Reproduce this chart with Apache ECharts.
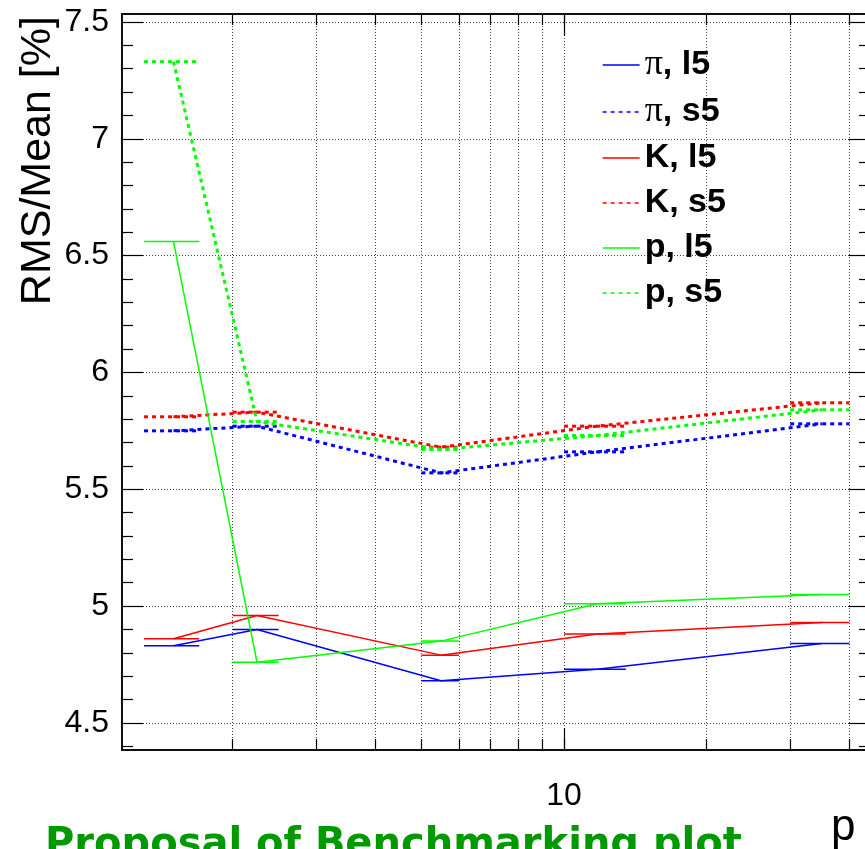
<!DOCTYPE html>
<html>
<head>
<meta charset="utf-8">
<script src="https://cdn.jsdelivr.net/npm/echarts@6.0.0/dist/echarts.min.js"></script>
<style>
  html, body { margin: 0; padding: 0; background: #fff; }
  #chart { width: 865px; height: 849px; }
</style>
</head>
<body>
<div id="chart"></div>
<script>
// bins in p (log axis), centre and x-error edges
var xCenter = [1.5, 2.25, 5.5, 11.75, 35];
var xLow = [1.3, 2.0, 5.0, 10.0, 30.0];
var xHigh = [1.7, 2.5, 6.0, 13.5, 40.0];

// RMS/Mean [%] per species
var piL5 = [4.83, 4.90, 4.68, 4.73, 4.84];
var piS5 = [5.75, 5.77, 5.57, 5.66, 5.78];
var kL5 = [4.86, 4.96, 4.79, 4.88, 4.93];
var kS5 = [5.81, 5.83, 5.68, 5.77, 5.87];
var pL5 = [6.56, 4.76, 4.85, 5.01, 5.05];
var pS5 = [7.33, 5.79, 5.67, 5.73, 5.84];

// ticks
var xMinorTicks = [2, 3, 4, 5, 6, 7, 8, 9, 10, 20, 30, 40];
var xMajorTicks = [10];
var yMajorTicks = [4.5, 5, 5.5, 6, 6.5, 7, 7.5];
var yMinorTicks = [4.4, 4.6, 4.7, 4.8, 4.9, 5.1, 5.2, 5.3, 5.4, 5.6, 5.7, 5.8, 5.9,
  6.1, 6.2, 6.3, 6.4, 6.6, 6.7, 6.8, 6.9, 7.1, 7.2, 7.3, 7.4];

var X_MIN = 1.168, X_MAX = 44.2;
var Y_MIN = 4.384, Y_MAX = 7.534;

var chart = echarts.init(document.getElementById('chart'));

var gridLine = { show: true, lineStyle: { color: '#444', type: [1, 2], width: 1 } };
var frameLine = { show: true, onZero: false, lineStyle: { color: '#000', width: 1.5 } };

function xAx (pos, ticks, len, withLabel) {
  return {
    type: 'log', logBase: 10, gridIndex: 0, position: pos,
    min: X_MIN, max: X_MAX,
    axisLine: frameLine,
    axisTick: { show: true, inside: true, length: len, customValues: ticks,
      lineStyle: { color: '#000', width: 1.2 } },
    axisLabel: withLabel ? {
      show: true, customValues: xMajorTicks, margin: 30,
      fontFamily: 'Liberation Sans', fontSize: 32, color: '#000'
    } : { show: false },
    splitLine: withLabel ? gridLine : { show: false }
  };
}

function yAx (pos, ticks, len, withLabel) {
  return {
    type: 'value', gridIndex: 0, position: pos,
    min: Y_MIN, max: Y_MAX,
    axisLine: frameLine,
    axisTick: { show: true, inside: true, length: len, customValues: ticks,
      lineStyle: { color: '#000', width: 1.2 } },
    axisLabel: withLabel ? {
      show: true, customValues: yMajorTicks, margin: 13,
      fontFamily: 'Liberation Sans', fontSize: 32, color: '#000',
      formatter: function (v) { return String(v); }
    } : { show: false },
    splitLine: withLabel ? gridLine : { show: false }
  };
}

function lineSeries (name, vals, color, dashed) {
  return {
    type: 'line', name: name, xAxisIndex: 0, yAxisIndex: 0,
    data: vals.map(function (v, i) { return [xCenter[i], v]; }),
    symbol: 'none', color: color,
    lineStyle: { color: color, width: dashed ? 3 : 1.5, type: dashed ? [4, 4] : 'solid' },
    emphasis: { disabled: true }, z: 3
  };
}

// horizontal x-error bars
function errSeries (name, vals, color, dashed) {
  return {
    type: 'custom', name: name + ' err', xAxisIndex: 0, yAxisIndex: 0,
    data: vals.map(function (v, i) { return [xLow[i], xHigh[i], v]; }),
    encode: { x: [0, 1], y: 2 },
    silent: true, z: 3,
    renderItem: function (params, api) {
      var a = api.coord([api.value(0), api.value(2)]);
      var b = api.coord([api.value(1), api.value(2)]);
      return {
        type: 'line',
        shape: { x1: a[0], y1: a[1], x2: b[0], y2: b[1] },
        style: { stroke: color, lineWidth: dashed ? 3 : 1.5, lineDash: dashed ? [4, 4] : null }
      };
    }
  };
}

var names = ['π, l5', 'π, s5', 'K, l5', 'K, s5', 'p, l5', 'p, s5'];
var blue = '#0000ff', red = '#ff0000', green = '#00ff00';

chart.setOption({
  animation: false,
  backgroundColor: '#fff',
  grid: { left: 122, top: 14, right: -5, bottom: 99, containLabel: false, outerBoundsMode: 'none' },
  xAxis: [
    xAx('bottom', xMinorTicks, 11, true),
    xAx('bottom', xMajorTicks, 22, false),
    xAx('top', xMinorTicks, 11, false),
    xAx('top', xMajorTicks, 22, false)
  ],
  yAxis: [
    yAx('left', yMajorTicks, 21, true),
    yAx('left', yMinorTicks, 11, false),
    yAx('right', yMajorTicks, 21, false),
    yAx('right', yMinorTicks, 11, false)
  ],
  legend: {
    orient: 'vertical', left: 597, top: 42,
    itemWidth: 37, itemHeight: 14, itemGap: 11,
    data: names,
    formatter: function (name) {
      // pi drawn in a plain serif face like the symbol font
      if (name.charAt(0) === 'π') return '{s|π}{b|' + name.slice(1) + '}';
      return '{b|' + name + '}';
    },
    textStyle: {
      fontFamily: 'Liberation Sans', fontWeight: 'bold', fontSize: 34, color: '#000', lineHeight: 34,
      rich: {
        s: { fontFamily: 'Liberation Serif', fontWeight: 'normal', fontSize: 36, color: '#000', lineHeight: 34 },
        b: { fontFamily: 'Liberation Sans', fontWeight: 'bold', fontSize: 34, color: '#000', lineHeight: 34 }
      }
    },
    itemStyle: { opacity: 0 },
    lineStyle: { width: 1.3 },
    selectedMode: false
  },
  graphic: [
    { type: 'text', x: 38, y: 16, rotation: Math.PI / 2,
      style: { text: 'RMS/Mean [%]', fontFamily: 'Liberation Sans', fontSize: 43, fill: '#000',
        textAlign: 'right', textVerticalAlign: 'middle' } },
    { type: 'text', x: 831, y: 828,
      style: { text: 'p', fontFamily: 'Liberation Sans', fontSize: 44, fill: '#000',
        textAlign: 'left', textVerticalAlign: 'middle' } },
    { type: 'text', x: 45, y: 826,
      style: { text: 'Proposal of Benchmarking plot', fontFamily: 'DejaVu Sans', fontWeight: 'bold',
        fontSize: 40, fill: '#009900', textAlign: 'left', textVerticalAlign: 'top' } }
  ],
  series: [
    lineSeries(names[0], piL5, blue, false), errSeries(names[0], piL5, blue, false),
    lineSeries(names[1], piS5, blue, true), errSeries(names[1], piS5, blue, true),
    lineSeries(names[2], kL5, red, false), errSeries(names[2], kL5, red, false),
    lineSeries(names[3], kS5, red, true), errSeries(names[3], kS5, red, true),
    lineSeries(names[4], pL5, green, false), errSeries(names[4], pL5, green, false),
    lineSeries(names[5], pS5, green, true), errSeries(names[5], pS5, green, true)
  ]
});
</script>
</body>
</html>
